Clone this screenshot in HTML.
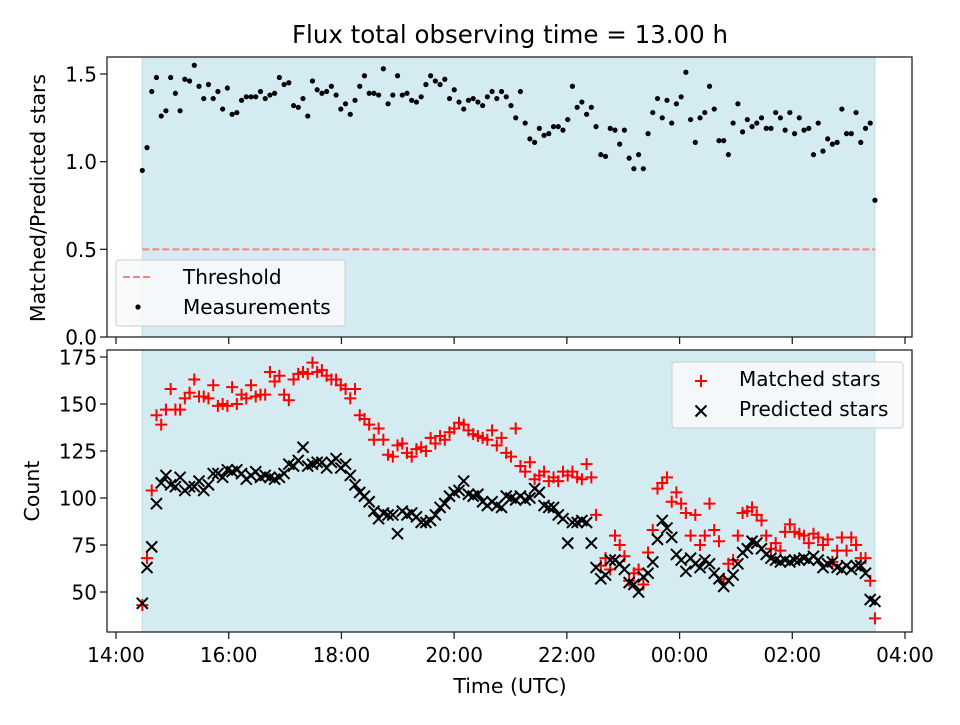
<!DOCTYPE html>
<html><head><meta charset="utf-8"><style>
body{margin:0;background:#fff}
svg{font-family:"DejaVu Sans","Liberation Sans",sans-serif}
</style></head><body>
<svg id="chart" width="960" height="720" viewBox="0 0 960 720" xmlns="http://www.w3.org/2000/svg">
<rect width="960" height="720" fill="#fff"/>
<text x="510" y="43" font-size="24.5" text-anchor="middle">Flux total observing time = 13.00 h</text>
<g id="topPanel"></g>
<g id="botPanel"></g>
<text transform="translate(45,198) rotate(-90)" font-size="20.5" text-anchor="middle">Matched/Predicted stars</text>
<text transform="translate(39,491) rotate(-90)" font-size="20.5" text-anchor="middle">Count</text>
<text x="510" y="693" font-size="20.5" text-anchor="middle">Time (UTC)</text>
</svg>
<script>
const startHour = 14 + 28/60;
const endHour = 27 + 28/60;
const xTickLabels = ["14:00","16:00","18:00","20:00","22:00","00:00","02:00","04:00"];
const xTickHours = [14,16,18,20,22,24,26,28];
const ratioTicks = [0,0.5,1.0,1.5];
const ratioTickLabels = ["0.0","0.5","1.0","1.5"];
const countTicks = [50,75,100,125,150,175];
const threshold = 0.5;
const ratio = [0.95,1.08,1.40,1.48,1.26,1.29,1.48,1.39,1.29,1.47,1.46,1.55,1.43,1.36,1.44,1.36,1.40,1.30,1.42,1.27,1.28,1.35,1.37,1.37,1.37,1.40,1.36,1.38,1.39,1.48,1.44,1.45,1.32,1.31,1.36,1.26,1.46,1.41,1.39,1.40,1.43,1.38,1.30,1.33,1.27,1.35,1.43,1.49,1.39,1.39,1.38,1.53,1.33,1.38,1.49,1.38,1.39,1.35,1.34,1.37,1.44,1.49,1.46,1.44,1.47,1.36,1.41,1.34,1.30,1.35,1.36,1.34,1.32,1.37,1.40,1.36,1.40,1.37,1.32,
1.25,1.40,1.22,1.13,1.11,1.19,1.15,1.16,1.20,1.20,1.18,1.24,1.43,1.31,1.34,1.27,1.31,1.20,1.04,1.03,1.19,1.18,1.10,1.18,1.02,0.96,1.04,0.96,1.16,1.28,1.36,1.25,1.35,1.22,1.33,1.37,1.51,1.24,1.11,1.25,1.28,1.43,1.30,1.12,1.12,1.04,1.22,1.33,1.17,1.24,1.20,1.22,1.25,1.19,1.19,1.28,1.25,1.18,1.28,1.16,1.25,1.18,1.19,1.04,1.22,1.06,1.13,1.10,1.11,1.30,1.16,1.16,1.28,1.11,1.19,1.22,0.78];
const matched = [43,68,104,144,139,147,158,147,147,153,156,163,154,154,153,160,149,150,149,159,150,155,153,160,154,155,155,167,162,165,155,152,163,166,167,166,172,167,168,165,163,163,160,158,153,158,144,142,139,131,137,131,123,122,128,129,124,122,126,127,125,132,129,133,131,135,137,140,139,136,134,133,132,131,136,128,132,124,122,137,117,114,119,110,112,114,109,111,109,114,112,114,111,110,118,111,91,64,68,62,80,75,69,56,60,62,54,71,83,105,108,111,98,103,97,92,80,91,75,80,97,83,77,57,65,67,80,92,93,95,91,88,80,73,76,72,82,86,82,81,80,76,81,79,75,78,66,72,79,72,79,75,68,68,56,36];
const predicted = [44,63,74,97,108,112,107,106,111,104,106,106,109,104,107,113,113,111,115,114,115,113,110,112,114,111,112,111,110,111,113,118,117,120,127,117,118,119,119,116,119,121,116,118,112,107,103,101,98,93,89,92,91,91,81,93,91,92,90,87,87,88,91,95,97,101,103,104,109,102,101,102,98,96,98,96,95,101,100,99,101,99,100,105,103,96,95,95,91,89,76,87,87,88,87,76,63,57,59,67,67,65,62,55,54,50,58,60,66,78,88,84,79,70,67,61,68,65,63,67,65,60,57,53,56,59,65,71,73,77,76,73,70,68,67,66,67,66,67,67,68,67,69,67,63,65,66,63,62,64,62,64,64,60,46,45];

const NS="http://www.w3.org/2000/svg";
const L=107,R=912, x0h=14, x1h=28, xA=116, xB=905;
function xs(h){return xA+(h-x0h)*(xB-xA)/(x1h-x0h);}
const T0=57,T1=337; function yr(v){return 337-v*(337-74)/1.5;}
const B0=350,B1=632; function yc(v){return 592-(v-50)*(592-357)/125;}
function mk(tag,attrs,parent){const e=document.createElementNS(NS,tag);for(const k in attrs)e.setAttribute(k,attrs[k]);parent.appendChild(e);return e;}
function tAt(i,n){return startHour+(endHour-startHour)*i/(n-1);}

const topG=document.getElementById('topPanel'), botG=document.getElementById('botPanel');
[[topG,T0,T1],[botG,B0,B1]].forEach(([g,a,b],pi)=>{
  const s=mk('rect',{x:xs(startHour),y:a,width:xs(endHour)-xs(startHour),height:b-a,fill:'#d5ebf2',stroke:'#bfdfe8','stroke-width':1},g);
  
  
  xTickHours.forEach((h,i)=>{
    const t=mk('line',{x1:xs(h),x2:xs(h),y1:b,y2:b+7,stroke:'#222','stroke-width':1.3},g);
    
    
    if(pi===1){
      const tx=mk('text',{x:xs(h),y:b+30,'font-size':20,'text-anchor':'middle'},g);
      tx.textContent=xTickLabels[i];
      
      
    }
  });
});
ratioTicks.forEach((v,i)=>{
  const t=mk('line',{x1:L-7,x2:L,y1:yr(v),y2:yr(v),stroke:'#222','stroke-width':1.3},topG);
  
  
  const tx=mk('text',{x:L-10,y:yr(v)+7.5,'font-size':20,'text-anchor':'end'},topG);
  tx.textContent=ratioTickLabels[i];
  
  
});
countTicks.forEach(v=>{
  const t=mk('line',{x1:L-7,x2:L,y1:yc(v),y2:yc(v),stroke:'#222','stroke-width':1.3},botG);
  
  
  const tx=mk('text',{x:L-10,y:yc(v)+7.5,'font-size':20,'text-anchor':'end'},botG);
  tx.textContent=String(v);
  
  
});
const th=mk('line',{x1:xs(startHour),x2:xs(endHour),y1:yr(threshold),y2:yr(threshold),stroke:'#ff8080','stroke-width':2,'stroke-dasharray':'7,3'},topG);


ratio.forEach((v,i)=>{
  const c=mk('circle',{cx:xs(tAt(i,ratio.length)),cy:yr(v),r:2.6,fill:'#000'},topG);
  
  
});
function plus(g,x,y){return mk('path',{d:`M${x-6},${y}H${x+6}M${x},${y-6}V${y+6}`,stroke:'#f00','stroke-width':2},g);}
function cross(g,x,y){return mk('path',{d:`M${x-5.5},${y-5.5}L${x+5.5},${y+5.5}M${x-5.5},${y+5.5}L${x+5.5},${y-5.5}`,stroke:'#000','stroke-width':2},g);}
matched.forEach((v,i)=>{
  const p=plus(botG,xs(tAt(i,matched.length)),yc(v));
  
  
});
predicted.forEach((v,i)=>{
  const p=cross(botG,xs(tAt(i,predicted.length)),yc(v));
  
  
});
[[topG,T0,T1],[botG,B0,B1]].forEach(([g,a,b])=>{
  const f=mk('rect',{x:L,y:a,width:R-L,height:b-a,fill:'none',stroke:'#222','stroke-width':1.3},g);
  
  
});
const lg1=mk('g',{},topG);


mk('rect',{x:116,y:260,width:229,height:66,rx:3,fill:'#f7fafc','fill-opacity':0.9,stroke:'#ccc'},lg1);
mk('line',{x1:123,x2:153,y1:277,y2:277,stroke:'#ff8080','stroke-width':2,'stroke-dasharray':'7,3'},lg1);
mk('circle',{cx:138,cy:307,r:2.6,fill:'#000'},lg1);
const t1=mk('text',{x:183,y:284,'font-size':20},lg1);t1.textContent='Threshold';
const t2=mk('text',{x:183,y:314,'font-size':20},lg1);t2.textContent='Measurements';
const lg2=mk('g',{},botG);


mk('rect',{x:672,y:362,width:231,height:66,rx:3,fill:'#f7fafc','fill-opacity':0.9,stroke:'#ccc'},lg2);
plus(lg2,701,381);cross(lg2,701,411);
const t3=mk('text',{x:739,y:386,'font-size':20},lg2);t3.textContent='Matched stars';
const t4=mk('text',{x:739,y:416,'font-size':20},lg2);t4.textContent='Predicted stars';
</script>
</body></html>
